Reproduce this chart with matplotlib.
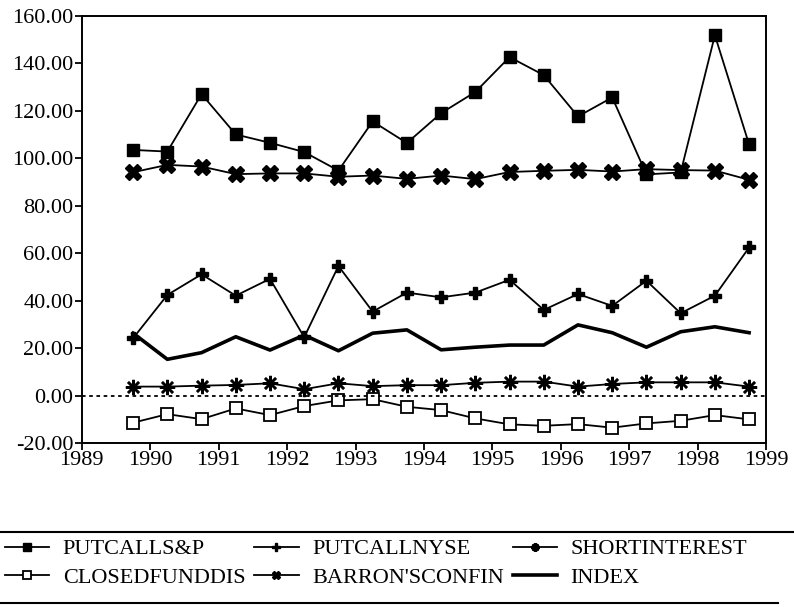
import matplotlib
matplotlib.use("Agg")
import matplotlib.pyplot as plt
from matplotlib.lines import Line2D
from matplotlib.ticker import FormatStrFormatter

plt.rcParams['font.family'] = ['Liberation Serif', 'DejaVu Serif']

# half-year observations, 1989.75 .. 1998.75
dates = [1989.75, 1990.25, 1990.75, 1991.25, 1991.75, 1992.25, 1992.75, 1993.25,
         1993.75, 1994.25, 1994.75, 1995.25, 1995.75, 1996.25, 1996.75, 1997.25,
         1997.75, 1998.25, 1998.75]

putcall_sp = [103.5, 102.8, 127.0, 110.0, 106.5, 102.6, 94.8, 115.5, 106.4, 119.0,
              127.9, 142.6, 135.0, 117.6, 125.6, 93.2, 94.0, 151.8, 105.8]
putcall_nyse = [24.2, 42.4, 51.1, 42.1, 49.2, 24.6, 54.6, 35.4, 43.4, 41.4,
                43.4, 48.8, 36.1, 42.8, 37.8, 48.4, 34.7, 42.1, 62.4]
short_interest = [3.8, 3.8, 4.2, 4.5, 5.2, 2.7, 5.2, 4.0, 4.4, 4.4,
                  5.4, 5.9, 5.9, 3.8, 4.9, 5.6, 5.6, 5.6, 3.8]
closed_fund = [-11.4, -7.8, -9.9, -5.4, -8.2, -4.4, -2.0, -1.5, -4.7, -6.1,
               -9.6, -12.1, -12.7, -12.0, -13.5, -11.7, -10.6, -8.2, -10.0]
barrons = [94.1, 97.2, 96.5, 93.3, 93.6, 93.6, 92.2, 92.7, 91.3, 92.7,
           91.2, 94.2, 94.7, 95.1, 94.4, 95.4, 95.0, 94.8, 90.9]
index_vals = [26.3, 15.3, 18.1, 24.8, 19.2, 25.5, 18.9, 26.3, 27.7, 19.3,
              20.4, 21.3, 21.3, 29.8, 26.5, 20.4, 26.9, 29.0, 26.5]

years = list(range(1989, 2000))
yticks = [-20, 0, 20, 40, 60, 80, 100, 120, 140, 160]

fig = plt.figure(figsize=(7.94, 6.07), dpi=100)
ax = fig.add_axes([0.103, 0.270, 0.862, 0.704])

lw = 1.3
h1, = ax.plot(dates, putcall_sp, color='black', lw=lw, marker='s', ms=8, label='PUTCALLS&P')
h2, = ax.plot(dates, putcall_nyse, color='black', lw=lw, marker='P', ms=9, label='PUTCALLNYSE')
h3, = ax.plot(dates, short_interest, color='black', lw=lw, marker=(8, 2, 0), ms=11, mew=1.8,
              label='SHORTINTEREST')
h4, = ax.plot(dates, closed_fund, color='black', lw=lw, marker='s', ms=9, mfc='white', mew=1.3,
              label='CLOSEDFUNDDIS')
h5, = ax.plot(dates, barrons, color='black', lw=lw, marker='X', ms=11, label="BARRON'SCONFIN")
h6, = ax.plot(dates, index_vals, color='black', lw=2.6, label='INDEX')

ax.axhline(0, color='black', lw=1.3, ls=(0, (2, 2)))

ax.set_xlim(1989, 1999)
ax.set_ylim(-20, 160)
ax.set_xticks(years)
ax.set_yticks(yticks)
ax.yaxis.set_major_formatter(FormatStrFormatter('%.2f'))
ax.tick_params(direction='out', length=5, width=1.3, labelsize=16, pad=1)
for s in ax.spines.values():
    s.set_linewidth(1.4)

# legend below the chart, between two rules
handles = [h1, h4, h2, h5, h3, h6]
fig.legend(handles=handles, labels=[h.get_label() for h in handles], ncol=3,
           loc='upper left', bbox_to_anchor=(-0.005, 0.127), frameon=False,
           fontsize=16, handlelength=2.0, handletextpad=0.6, columnspacing=0.4,
           labelspacing=0.35, borderaxespad=0)
for lh in fig.legends[0].get_lines():
    lh.set_markersize(6)
fig.add_artist(Line2D([0, 1], [0.124, 0.124], transform=fig.transFigure, color='black', lw=1.5))
fig.add_artist(Line2D([0, 0.98], [0.006, 0.006], transform=fig.transFigure, color='black', lw=1.5))

fig.savefig('out.png', dpi=100)
